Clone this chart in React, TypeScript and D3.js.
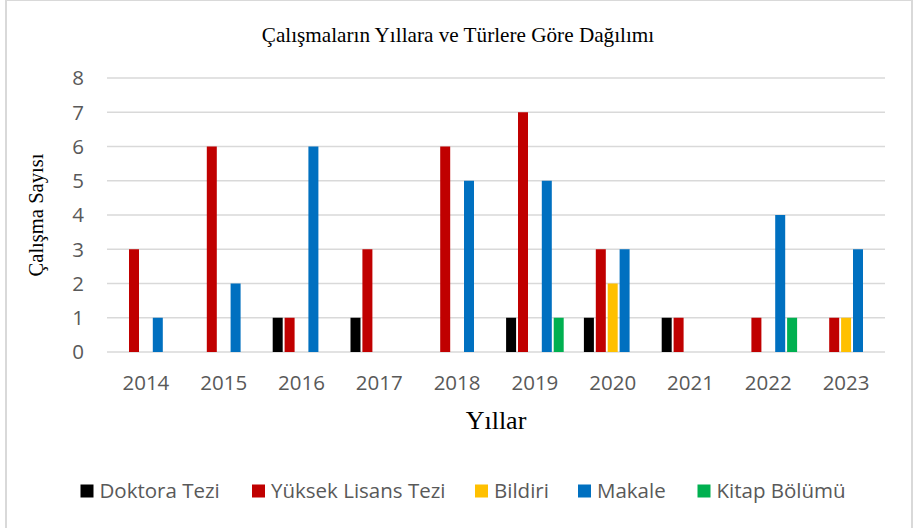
import React from "react";
import * as d3 from "d3";

const years = ["2014", "2015", "2016", "2017", "2018", "2019", "2020", "2021", "2022", "2023"];
const seriesNames = ["Doktora Tezi", "Yüksek Lisans Tezi", "Bildiri", "Makale", "Kitap Bölümü"];
const seriesColors = ["#000000", "#C00000", "#FFC000", "#0070C0", "#00B050"];
const doktora = [0, 0, 1, 1, 0, 1, 1, 1, 0, 0];
const yuksekLisans = [3, 6, 1, 3, 6, 7, 3, 1, 1, 1];
const bildiri = [0, 0, 0, 0, 0, 0, 2, 0, 0, 1];
const makale = [1, 2, 6, 0, 5, 5, 3, 0, 4, 3];
const kitap = [0, 0, 0, 0, 0, 1, 0, 0, 1, 0];
const yTicks = [0, 1, 2, 3, 4, 5, 6, 7, 8];

const seriesValues = [doktora, yuksekLisans, bildiri, makale, kitap];

const W = 913;
const H = 528;
const left = 107;
const right = 885;
const top = 78;
const bottom = 352;

const sans = "'Open Sans', sans-serif";
const serif = "'Liberation Serif', 'Times New Roman', serif";

export default function App() {
  const x0 = d3.scaleBand<string>().domain(years).range([left, right]).padding(0);
  const step = x0.bandwidth();
  const groupW = 57.6;
  const x1 = d3
    .scaleBand<string>()
    .domain(seriesNames)
    .range([(step - groupW) / 2, (step + groupW) / 2])
    .paddingInner(0.16)
    .paddingOuter(0);
  const y = d3.scaleLinear().domain([0, 8]).range([bottom, top]);

  const legendX = [80.5, 252, 475, 578, 697.5];

  return (
    <div style={{ position: "fixed", left: 0, top: 0 }}>
      <svg width={W} height={H} style={{ display: "block", background: "#fff" }}>
        <rect x={6} y={0} width={906} height={H + 10} fill="#fff" stroke="#d9d9d9" strokeWidth={2} />
        <text x={458} y={42} textAnchor="middle" fontFamily={serif} fontSize={21.2} fill="#000">
          Çalışmaların Yıllara ve Türlere Göre Dağılımı
        </text>
        {yTicks.map((t) => (
          <g key={t}>
            <line x1={left} x2={right} y1={y(t)} y2={y(t)} stroke="#d9d9d9" strokeWidth={1.5} />
            <text x={84} y={y(t)} dy="0.36em" textAnchor="end" fontFamily={sans} fontSize={20.5} fill="#595959">
              {t}
            </text>
          </g>
        ))}
        {years.map((yr, i) => (
          <g key={yr} transform={`translate(${x0(yr)},0)`}>
            {seriesNames.map((s, j) => {
              const v = seriesValues[j][i];
              if (!v) return null;
              return (
                <rect
                  key={s}
                  x={x1(s)}
                  y={y(v)}
                  width={x1.bandwidth()}
                  height={y(0) - y(v)}
                  fill={seriesColors[j]}
                />
              );
            })}
            <text x={step / 2} y={390} textAnchor="middle" fontFamily={sans} fontSize={20.5} fill="#595959">
              {yr}
            </text>
          </g>
        ))}
        <text
          transform={`translate(43,${(top + bottom) / 2}) rotate(-90)`}
          textAnchor="middle"
          fontFamily={serif}
          fontSize={20.6}
          fill="#000"
        >
          Çalışma Sayısı
        </text>
        <text x={496} y={429} textAnchor="middle" fontFamily={serif} fontSize={26} fill="#000">
          Yıllar
        </text>
        {seriesNames.map((s, j) => (
          <g key={s} transform={`translate(${legendX[j]},491)`}>
            <rect x={0} y={-6.5} width={13} height={13} fill={seriesColors[j]} />
            <text x={19} y={0} dy="0.36em" fontFamily={sans} fontSize={20.5} fill="#595959">
              {s}
            </text>
          </g>
        ))}
      </svg>
    </div>
  );
}
